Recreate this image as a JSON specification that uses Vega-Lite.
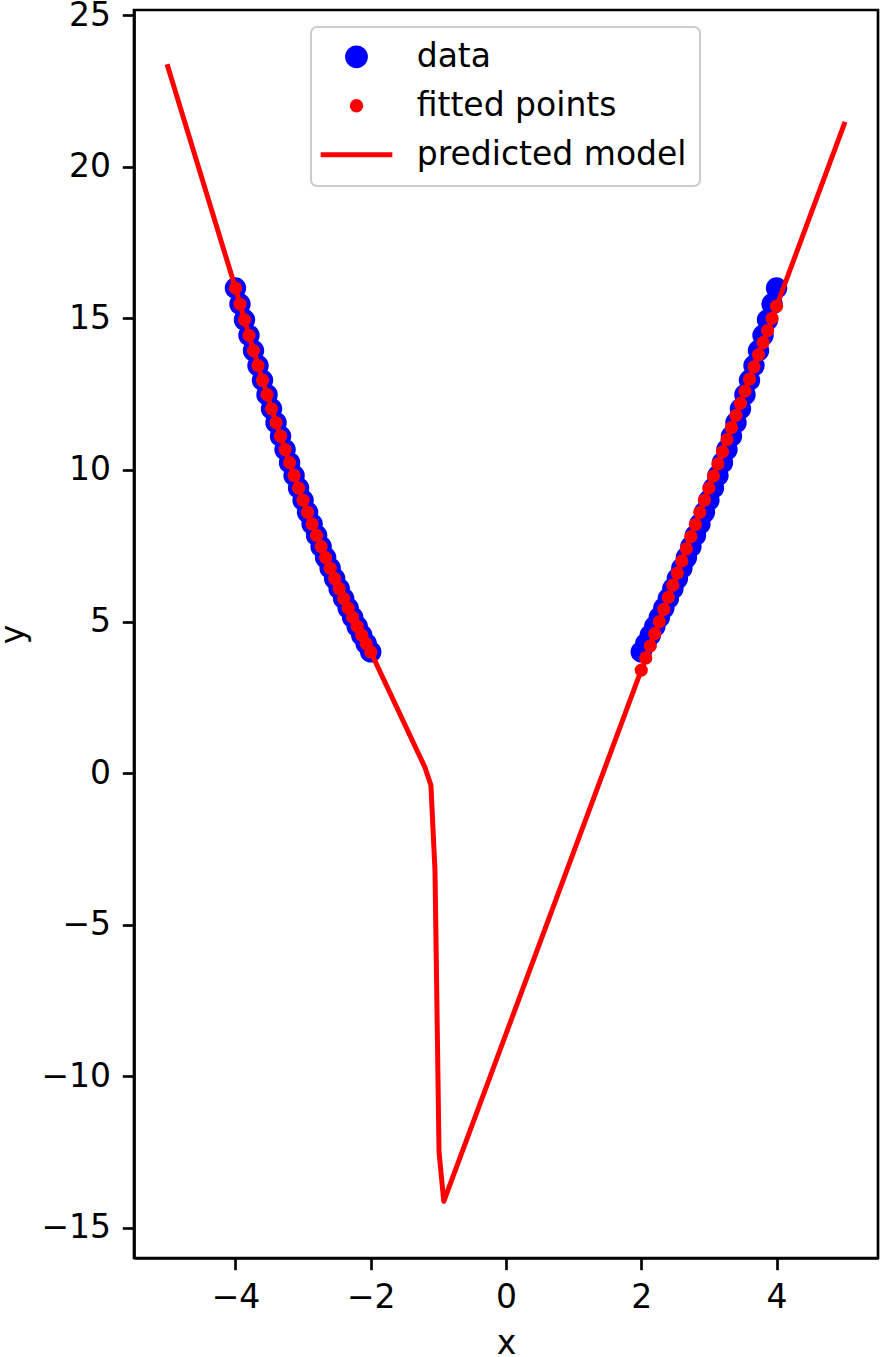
{
  "$schema": "https://vega.github.io/schema/vega-lite/v6.json",
  "width": 744,
  "height": 1248,
  "autosize": {"type": "none"},
  "padding": {"left": 134, "top": 10, "right": 4, "bottom": 99},
  "background": "white",
  "config": {
    "font": "DejaVu Sans",
    "view": {"stroke": "black", "strokeWidth": 2.67},
    "axis": {
      "grid": false,
      "domainColor": "black",
      "domainWidth": 2.67,
      "tickColor": "black",
      "tickWidth": 2.67,
      "tickSize": 11.7,
      "labelFontSize": 33,
      "labelColor": "black",
      "labelPadding": 11.7,
      "titleFontSize": 33,
      "titleFontWeight": "normal",
      "titleColor": "black"
    },
    "legend": {
      "orient": "none",
      "legendX": 177,
      "legendY": 17,
      "padding": 13.3,
      "fillColor": "rgba(255,255,255,0.8)",
      "strokeColor": "#cccccc",
      "strokeWidth": 2,
      "cornerRadius": 6,
      "labelFontSize": 33,
      "labelColor": "black",
      "labelLimit": 500,
      "symbolSize": 400,
      "symbolOffset": 15.7,
      "labelOffset": 43.7,
      "rowPadding": 15,
      "title": null
    }
  },
  "data": {
    "values": [
      {"series": "data", "x": -4, "y": 16}, {"series": "data", "x": -3.9333, "y": 15.471}, {"series": "data", "x": -3.8667, "y": 14.951}, {"series": "data", "x": -3.8, "y": 14.44}, {"series": "data", "x": -3.7333, "y": 13.938}, {"series": "data", "x": -3.6667, "y": 13.444}, {"series": "data", "x": -3.6, "y": 12.96}, {"series": "data", "x": -3.5333, "y": 12.484}, {"series": "data", "x": -3.4667, "y": 12.018}, {"series": "data", "x": -3.4, "y": 11.56}, {"series": "data", "x": -3.3333, "y": 11.111}, {"series": "data", "x": -3.2667, "y": 10.671}, {"series": "data", "x": -3.2, "y": 10.24}, {"series": "data", "x": -3.1333, "y": 9.818}, {"series": "data", "x": -3.0667, "y": 9.404}, {"series": "data", "x": -3, "y": 9}, {"series": "data", "x": -2.9333, "y": 8.604}, {"series": "data", "x": -2.8667, "y": 8.218}, {"series": "data", "x": -2.8, "y": 7.84}, {"series": "data", "x": -2.7333, "y": 7.471}, {"series": "data", "x": -2.6667, "y": 7.111}, {"series": "data", "x": -2.6, "y": 6.76}, {"series": "data", "x": -2.5333, "y": 6.418}, {"series": "data", "x": -2.4667, "y": 6.084}, {"series": "data", "x": -2.4, "y": 5.76}, {"series": "data", "x": -2.3333, "y": 5.444}, {"series": "data", "x": -2.2667, "y": 5.138}, {"series": "data", "x": -2.2, "y": 4.84}, {"series": "data", "x": -2.1333, "y": 4.551}, {"series": "data", "x": -2.0667, "y": 4.271}, {"series": "data", "x": -2, "y": 4},
      {"series": "data", "x": 2, "y": 4}, {"series": "data", "x": 2.0667, "y": 4.271}, {"series": "data", "x": 2.1333, "y": 4.551}, {"series": "data", "x": 2.2, "y": 4.84}, {"series": "data", "x": 2.2667, "y": 5.138}, {"series": "data", "x": 2.3333, "y": 5.444}, {"series": "data", "x": 2.4, "y": 5.76}, {"series": "data", "x": 2.4667, "y": 6.084}, {"series": "data", "x": 2.5333, "y": 6.418}, {"series": "data", "x": 2.6, "y": 6.76}, {"series": "data", "x": 2.6667, "y": 7.111}, {"series": "data", "x": 2.7333, "y": 7.471}, {"series": "data", "x": 2.8, "y": 7.84}, {"series": "data", "x": 2.8667, "y": 8.218}, {"series": "data", "x": 2.9333, "y": 8.604}, {"series": "data", "x": 3, "y": 9}, {"series": "data", "x": 3.0667, "y": 9.404}, {"series": "data", "x": 3.1333, "y": 9.818}, {"series": "data", "x": 3.2, "y": 10.24}, {"series": "data", "x": 3.2667, "y": 10.671}, {"series": "data", "x": 3.3333, "y": 11.111}, {"series": "data", "x": 3.4, "y": 11.56}, {"series": "data", "x": 3.4667, "y": 12.018}, {"series": "data", "x": 3.5333, "y": 12.484}, {"series": "data", "x": 3.6, "y": 12.96}, {"series": "data", "x": 3.6667, "y": 13.444}, {"series": "data", "x": 3.7333, "y": 13.938}, {"series": "data", "x": 3.8, "y": 14.44}, {"series": "data", "x": 3.8667, "y": 14.951}, {"series": "data", "x": 3.9333, "y": 15.471}, {"series": "data", "x": 4, "y": 16},

      {"series": "fitted points", "x": -4, "y": 16}, {"series": "fitted points", "x": -3.9333, "y": 15.471}, {"series": "fitted points", "x": -3.8667, "y": 14.951}, {"series": "fitted points", "x": -3.8, "y": 14.44}, {"series": "fitted points", "x": -3.7333, "y": 13.938}, {"series": "fitted points", "x": -3.6667, "y": 13.444}, {"series": "fitted points", "x": -3.6, "y": 12.96}, {"series": "fitted points", "x": -3.5333, "y": 12.484}, {"series": "fitted points", "x": -3.4667, "y": 12.018}, {"series": "fitted points", "x": -3.4, "y": 11.56}, {"series": "fitted points", "x": -3.3333, "y": 11.111}, {"series": "fitted points", "x": -3.2667, "y": 10.671}, {"series": "fitted points", "x": -3.2, "y": 10.24}, {"series": "fitted points", "x": -3.1333, "y": 9.818}, {"series": "fitted points", "x": -3.0667, "y": 9.404}, {"series": "fitted points", "x": -3, "y": 9}, {"series": "fitted points", "x": -2.9333, "y": 8.604}, {"series": "fitted points", "x": -2.8667, "y": 8.218}, {"series": "fitted points", "x": -2.8, "y": 7.84}, {"series": "fitted points", "x": -2.7333, "y": 7.471}, {"series": "fitted points", "x": -2.6667, "y": 7.111}, {"series": "fitted points", "x": -2.6, "y": 6.76}, {"series": "fitted points", "x": -2.5333, "y": 6.418}, {"series": "fitted points", "x": -2.4667, "y": 6.084}, {"series": "fitted points", "x": -2.4, "y": 5.76}, {"series": "fitted points", "x": -2.3333, "y": 5.444}, {"series": "fitted points", "x": -2.2667, "y": 5.138}, {"series": "fitted points", "x": -2.2, "y": 4.84}, {"series": "fitted points", "x": -2.1333, "y": 4.551}, {"series": "fitted points", "x": -2.0667, "y": 4.271}, {"series": "fitted points", "x": -2, "y": 4},
      {"series": "fitted points", "x": 2, "y": 3.4}, {"series": "fitted points", "x": 2.0667, "y": 3.8}, {"series": "fitted points", "x": 2.1333, "y": 4.2}, {"series": "fitted points", "x": 2.2, "y": 4.6}, {"series": "fitted points", "x": 2.2667, "y": 5.0}, {"series": "fitted points", "x": 2.3333, "y": 5.4}, {"series": "fitted points", "x": 2.4, "y": 5.8}, {"series": "fitted points", "x": 2.4667, "y": 6.2}, {"series": "fitted points", "x": 2.5333, "y": 6.6}, {"series": "fitted points", "x": 2.6, "y": 7.0}, {"series": "fitted points", "x": 2.6667, "y": 7.4}, {"series": "fitted points", "x": 2.7333, "y": 7.8}, {"series": "fitted points", "x": 2.8, "y": 8.2}, {"series": "fitted points", "x": 2.8667, "y": 8.6}, {"series": "fitted points", "x": 2.9333, "y": 9.0}, {"series": "fitted points", "x": 3, "y": 9.4}, {"series": "fitted points", "x": 3.0667, "y": 9.8}, {"series": "fitted points", "x": 3.1333, "y": 10.2}, {"series": "fitted points", "x": 3.2, "y": 10.6}, {"series": "fitted points", "x": 3.2667, "y": 11.0}, {"series": "fitted points", "x": 3.3333, "y": 11.4}, {"series": "fitted points", "x": 3.4, "y": 11.8}, {"series": "fitted points", "x": 3.4667, "y": 12.2}, {"series": "fitted points", "x": 3.5333, "y": 12.6}, {"series": "fitted points", "x": 3.6, "y": 13.0}, {"series": "fitted points", "x": 3.6667, "y": 13.4}, {"series": "fitted points", "x": 3.7333, "y": 13.8}, {"series": "fitted points", "x": 3.8, "y": 14.2}, {"series": "fitted points", "x": 3.8667, "y": 14.6}, {"series": "fitted points", "x": 3.9333, "y": 15.0}, {"series": "fitted points", "x": 4, "y": 15.4},

      {"series": "predicted model", "x": -5, "y": 23.3},
      {"series": "predicted model", "x": -4, "y": 16}, {"series": "predicted model", "x": -3.8, "y": 14.44}, {"series": "predicted model", "x": -3.6, "y": 12.96}, {"series": "predicted model", "x": -3.4, "y": 11.56}, {"series": "predicted model", "x": -3.2, "y": 10.24}, {"series": "predicted model", "x": -3, "y": 9}, {"series": "predicted model", "x": -2.8, "y": 7.84}, {"series": "predicted model", "x": -2.6, "y": 6.76}, {"series": "predicted model", "x": -2.4, "y": 5.76}, {"series": "predicted model", "x": -2.2, "y": 4.84}, {"series": "predicted model", "x": -2, "y": 4},
      {"series": "predicted model", "x": -1.2, "y": 0.2}, {"series": "predicted model", "x": -1.11, "y": -0.4}, {"series": "predicted model", "x": -1.05, "y": -3.2}, {"series": "predicted model", "x": -0.99, "y": -12.5}, {"series": "predicted model", "x": -0.92, "y": -14.12}, {"series": "predicted model", "x": 5, "y": 21.4}
    ]
  },
  "encoding": {
    "x": {"field": "x", "type": "quantitative", "scale": {"domain": [-5.5, 5.5], "nice": false, "zero": false}, "axis": {"values": [-4, -2, 0, 2, 4], "title": "x", "titlePadding": 13}},
    "y": {"field": "y", "type": "quantitative", "scale": {"domain": [-15.99, 25.17], "nice": false, "zero": false}, "axis": {"values": [-15, -10, -5, 0, 5, 10, 15, 20, 25], "title": "y", "titlePadding": 10}},
    "color": {
      "field": "series", "type": "nominal",
      "scale": {"domain": ["data", "fitted points", "predicted model"], "range": ["#0000ff", "#ff0000", "#ff0000"]},
      "legend": {
        "encode": {
          "symbols": {
            "update": {
              "shape": {"signal": "datum.value === 'predicted model' ? 'stroke' : 'circle'"},
              "size": {"signal": "datum.value === 'data' ? 520 : (datum.value === 'fitted points' ? 180 : 4449)"},
              "fill": {"signal": "datum.value === 'data' ? '#0000ff' : (datum.value === 'fitted points' ? '#ff0000' : 'transparent')"},
              "stroke": {"signal": "datum.value === 'predicted model' ? '#ff0000' : 'transparent'"},
              "strokeWidth": {"signal": "datum.value === 'predicted model' ? 5 : 0"},
              "strokeCap": {"value": "square"},
              "opacity": {"value": 1}
            }
          }
        }
      }
    }
  },
  "layer": [
    {
      "transform": [{"filter": "datum.series === 'data'"}],
      "mark": {"type": "point", "shape": "circle", "filled": true, "size": 460, "opacity": 1, "strokeWidth": 0}
    },
    {
      "transform": [{"filter": "datum.series === 'fitted points'"}],
      "mark": {"type": "point", "shape": "circle", "filled": true, "size": 175, "opacity": 1, "strokeWidth": 0}
    },
    {
      "transform": [{"filter": "datum.series === 'predicted model'"}],
      "mark": {"type": "line", "strokeWidth": 5, "strokeCap": "square", "strokeJoin": "round"}
    }
  ]
}
